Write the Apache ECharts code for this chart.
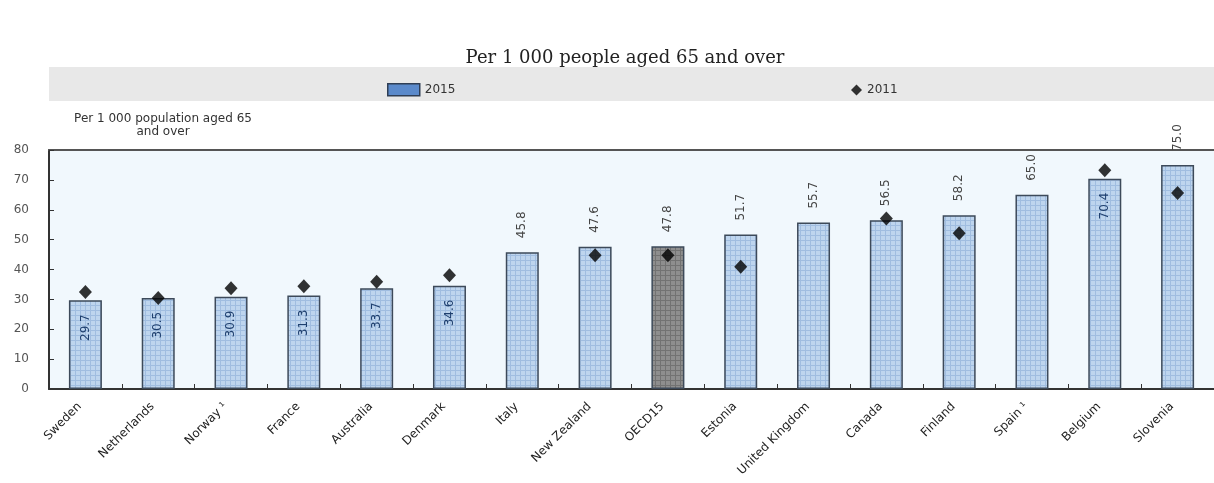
<!DOCTYPE html>
<html>
<head>
<meta charset="utf-8">
<script src="https://cdn.jsdelivr.net/npm/echarts@6/dist/echarts.min.js"></script>
<style>
  html, body { margin: 0; padding: 0; background: #ffffff; }
  #chart { width: 1214px; height: 483px; }
</style>
</head>
<body>
<div id="chart"></div>
<script>
// Long-term care beds per 1 000 people aged 65 and over
const categories = ['Sweden', 'Netherlands', 'Norway \u00B9', 'France', 'Australia', 'Denmark', 'Italy',
  'New Zealand', 'OECD15', 'Estonia', 'United Kingdom', 'Canada', 'Finland', 'Spain \u00B9', 'Belgium', 'Slovenia'];
const values2015 = [29.7, 30.5, 30.9, 31.3, 33.7, 34.6, 45.8, 47.6, 47.8, 51.7, 55.7, 56.5, 58.2, 65.0, 70.4, 75.0];
const values2011 = [32.5, 30.5, 33.7, 34.4, 35.9, 38.1, null, 44.8, 44.8, 40.9, null, 57.1, 52.1, null, 73.2, 65.6];
const insideLabelCats = ['Sweden', 'Netherlands', 'Norway \u00B9', 'France', 'Australia', 'Denmark', 'Belgium'];
const highlightCat = 'OECD15';
const yTicks = [0, 10, 20, 30, 40, 50, 60, 70, 80];

// small tiled grid texture for the bars
function gridPattern(fill, line) {
  const c = document.createElement('canvas');
  c.width = 5; c.height = 5;
  const g = c.getContext('2d');
  g.fillStyle = fill; g.fillRect(0, 0, 5, 5);
  g.fillStyle = line; g.fillRect(0, 0, 5, 1); g.fillRect(0, 0, 1, 5);
  return { image: c, repeat: 'repeat' };
}
const blueFill = gridPattern('#bed5ee', '#a0bde0');
const greyFill = gridPattern('#8e8e8e', '#727272');

const sans = 'DejaVu Sans, Liberation Sans, Arial, sans-serif';

const barData = values2015.map((v, i) => {
  const cat = categories[i];
  const inside = insideLabelCats.includes(cat);
  return {
    value: v,
    itemStyle: { color: cat === highlightCat ? greyFill : blueFill },
    label: inside
      ? { position: 'insideTop', align: 'right', verticalAlign: 'middle', distance: 14, color: '#1e3f6e' }
      : { position: 'top', align: 'left', verticalAlign: 'middle', distance: 14, color: '#444' }
  };
});

const chart = echarts.init(document.getElementById('chart'), null, { renderer: 'canvas' });

chart.setOption({
  animation: false,
  backgroundColor: '#ffffff',
  title: [
    {
      text: 'Per 1 000 people aged 65 and over',
      left: 620, top: 44, textAlign: 'center',
      textStyle: { fontFamily: 'DejaVu Serif, Liberation Serif, serif', fontSize: 18, fontWeight: 'normal', color: '#222' }
    },
    {
      text: 'Per 1 000 population aged 65\nand over',
      left: 158, top: 107, textAlign: 'center',
      textStyle: { fontFamily: sans, fontSize: 12, fontWeight: 'normal', color: '#333', lineHeight: 13 }
    }
  ],
  graphic: [
    { type: 'rect', left: 49, top: 67, shape: { width: 1170, height: 34 }, style: { fill: '#e8e8e8' }, z: -1 }
  ],
  legend: [
    {
      data: [{ name: '2015', icon: 'rect', itemStyle: { color: '#5b8acb', borderColor: '#2f3e55', borderWidth: 1.5 } }],
      left: 382, top: 78, itemWidth: 32, itemHeight: 12, itemGap: 10,
      textStyle: { fontFamily: sans, fontSize: 12, color: '#333' }
    },
    {
      data: ['2011'], left: 846, top: 79, itemWidth: 11, itemHeight: 11,
      textStyle: { fontFamily: sans, fontSize: 12, color: '#333' }
    }
  ],
  grid: {
    left: 49, right: -8, top: 150, bottom: 94,
    show: true, backgroundColor: '#f1f8fd', borderWidth: 0
  },
  xAxis: [
    {
      type: 'category', data: categories, position: 'bottom',
      axisLine: { lineStyle: { color: '#333', width: 2 } },
      axisTick: { show: true, inside: true, length: 5, alignWithLabel: false, lineStyle: { color: '#333' } },
      axisLabel: { rotate: 45, interval: 0, margin: 10, padding: [0, 8, 0, 0], fontFamily: sans, fontSize: 12, color: '#222' }
    },
    {
      type: 'category', data: categories, position: 'top',
      axisLine: { show: true, lineStyle: { color: '#555', width: 2 } },
      axisTick: { show: false }, axisLabel: { show: false }
    }
  ],
  yAxis: {
    type: 'value', min: yTicks[0], max: yTicks[yTicks.length - 1], interval: 10,
    axisLine: { show: true, lineStyle: { color: '#333', width: 2 } },
    axisTick: { show: true, inside: true, length: 5, lineStyle: { color: '#333' } },
    axisLabel: { fontFamily: sans, fontSize: 12, color: '#555', margin: 20 },
    splitLine: { show: false }
  },
  series: [
    {
      name: '2015', type: 'bar', data: barData, barWidth: 33,
      itemStyle: { color: '#5b8acb', borderColor: '#3d4a5a', borderWidth: 1.5 },
      label: { show: true, rotate: 90, fontFamily: sans, fontSize: 12, formatter: p => p.value.toFixed(1) },
      z: 2
    },
    {
      name: '2011', type: 'scatter', data: values2011,
      symbol: 'diamond', symbolSize: [13, 14],
      itemStyle: { color: '#000' }, z: 5
    }
  ]
});
</script>
</body>
</html>
